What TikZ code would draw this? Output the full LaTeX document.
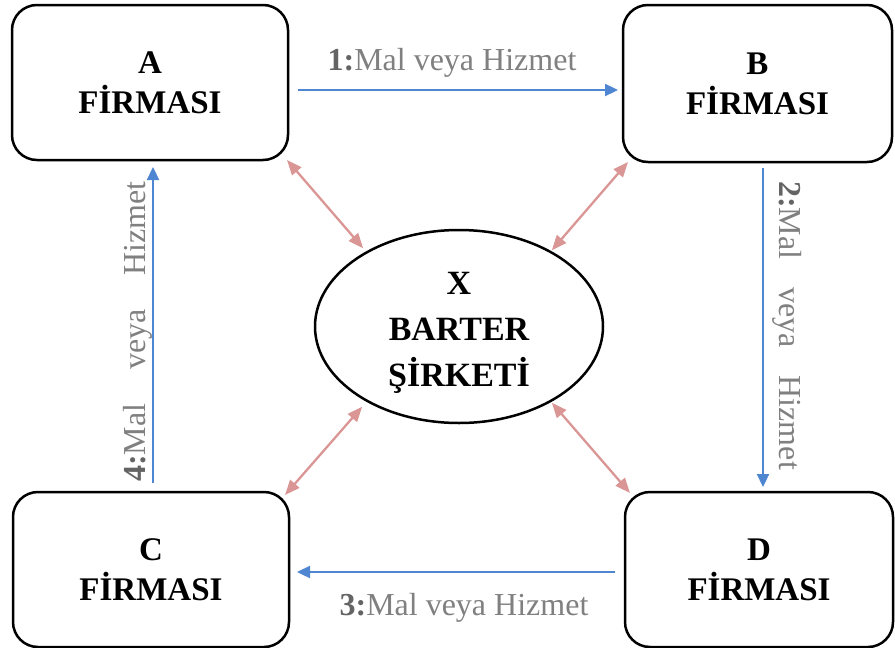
\documentclass[tikz,border=0pt]{standalone}
\usepackage{fontspec}
\setmainfont{Liberation Serif}
\usetikzlibrary{arrows.meta,shapes.geometric}
\definecolor{arrblue}{RGB}{79,134,210}
\definecolor{arrpink}{RGB}{217,150,148}
\definecolor{lblgray}{RGB}{128,128,128}
\definecolor{numgray}{RGB}{100,100,100}
\begin{document}
\begin{tikzpicture}[x=1pt,y=-1pt,
 firm/.style={draw=black,line width=2.5pt,rounded corners=25pt,outer sep=0pt,inner sep=0pt,align=center,font=\fontsize{33}{40}\selectfont\bfseries},
 barter/.style={ellipse,draw=black,line width=2.5pt,outer sep=0pt,inner sep=0pt},
 bartertext/.style={align=center,inner sep=0pt,font=\fontsize{34}{46}\selectfont\bfseries},
 flow/.style={draw=arrblue,line width=2.3pt,-{Triangle[length=13pt,width=12pt]}},
 link/.style={draw=arrpink,line width=2.3pt,{Triangle[length=15pt,width=12pt]}-{Triangle[length=15pt,width=12pt]}},
 lbl/.style={text=lblgray,font=\fontsize{32}{32}\selectfont,inner sep=0pt,anchor=base}]
\useasboundingbox (0,0) rectangle (895,648);
% boxes
\node[firm,minimum width=276pt,minimum height=155pt] (A) at (150,82.5) {A\\FİRMASI};
\node[firm,minimum width=269pt,minimum height=157pt] (B) at (757.5,83.5) {B\\FİRMASI};
\node[firm,minimum width=276pt,minimum height=155pt] (C) at (151,569.5) {C\\FİRMASI};
\node[firm,minimum width=268pt,minimum height=155pt] (D) at (759,569.5) {D\\FİRMASI};
% barter company
\node[barter,minimum width=288pt,minimum height=193pt] (X) at (459,326.5) {};
\node[bartertext] (Xt) at (459,333) {X\\BARTER\\ŞİRKETİ};
% flows
\draw[flow] ([shift={(10,7.5)}]A.east) -- ([shift={(-5,6.5)}]B.west);
\draw[flow] ([shift={(5.5,6)}]B.south) -- ([shift={(4,-5)}]D.north);
\draw[flow] ([shift={(-10,2.5)}]D.west) -- ([shift={(8,2.5)}]C.east);
\draw[flow] ([shift={(2,-9)}]C.north) -- ([shift={(3,7)}]A.south);
% labels
\node[lbl] (l1) at (452,70) {\textbf{\color{numgray}1:}Mal veya Hizmet};
\node[lbl,rotate=-90] (l2) at (779,325.5) {\textbf{\color{numgray}2:}Mal\hspace{20pt} veya\hspace{20pt} Hizmet};
\node[lbl] (l3) at (464,615) {\textbf{\color{numgray}3:}Mal veya Hizmet};
\node[lbl,rotate=90] (l4) at (145,331.5) {\textbf{\color{numgray}4:}Mal\hspace{26pt} veya\hspace{26pt} Hizmet};
% links to barter company
\draw[link] ([shift={(-1,0)}]A.south east) -- ([shift={(6,-10)}]X.north west);
\draw[link] ([shift={(5,0)}]B.south west) -- ([shift={(-9,-8)}]X.north east);
\draw[link] ([shift={(-4,3)}]C.north east) -- ([shift={(5,12)}]X.south west);
\draw[link] ([shift={(5,1)}]D.north west) -- ([shift={(-9,8)}]X.south east);
\end{tikzpicture}
\end{document}
